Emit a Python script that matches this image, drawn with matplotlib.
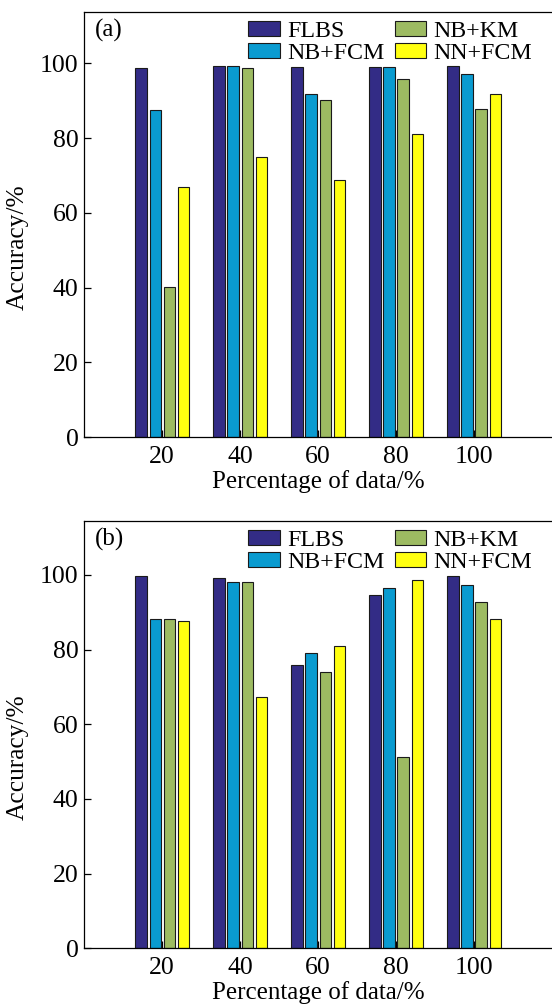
import matplotlib
matplotlib.use("Agg")
import matplotlib.pyplot as plt
import numpy as np

plt.rcParams["font.family"] = ["Liberation Serif", "DejaVu Serif"]

PERCENTAGES = ["20", "40", "60", "80", "100"]
METHODS = ["FLBS", "NB+FCM", "NB+KM", "NN+FCM"]
COLORS = ["#332c86", "#0a9bd0", "#9dbb62", "#ffff10"]

ACC_A = {
    "FLBS": [98.7, 99.4, 99.0, 99.1, 99.3],
    "NB+FCM": [87.5, 99.2, 91.7, 99.1, 97.2],
    "NB+KM": [40.1, 98.8, 90.2, 95.9, 87.9],
    "NN+FCM": [66.8, 74.9, 68.7, 81.2, 91.7],
}
ACC_B = {
    "FLBS": [99.6, 99.2, 75.9, 94.7, 99.6],
    "NB+FCM": [88.3, 98.0, 79.0, 96.5, 97.2],
    "NB+KM": [88.3, 98.0, 74.0, 51.1, 92.8],
    "NN+FCM": [87.6, 67.4, 81.0, 98.5, 88.1],
}

BAR_W = 0.145
STEP = 0.181


def draw_panel(ax, acc, tag, ytop):
    x = np.arange(1, len(PERCENTAGES) + 1)
    offsets = (np.arange(len(METHODS)) - 1.5) * STEP
    for method, color, off in zip(METHODS, COLORS, offsets):
        ax.bar(x + off, acc[method], width=BAR_W, color=color,
               edgecolor="#1a1a1a", linewidth=0.8, label=method, zorder=2)
    ax.set_xlim(0, 6)
    ax.set_ylim(0, ytop)
    ax.set_xticks(x)
    ax.set_xticklabels(PERCENTAGES)
    ax.set_yticks([0, 20, 40, 60, 80, 100])
    ax.tick_params(direction="in", length=5, labelsize=18.5, width=0.9)
    ax.tick_params(axis="x", pad=6)
    ax.tick_params(axis="y", pad=4)
    ax.spines["right"].set_visible(False)
    for s in ("left", "top", "bottom"):
        ax.spines[s].set_linewidth(0.9)
    ax.set_xlabel("Percentage of data/%", fontsize=18, labelpad=2)
    ax.set_ylabel("Accuracy/%", fontsize=18.3)
    ax.yaxis.set_label_coords(-0.118, 0.447)
    ax.text(0.023, 0.955, tag, transform=ax.transAxes, fontsize=18,
            ha="left", va="center")
    ax.legend(ncol=2, loc="upper left", bbox_to_anchor=(0.351, 0.979),
              frameon=False, fontsize=17.2, handlelength=1.31, handleheight=0.6,
              handletextpad=0.3, columnspacing=0.45, labelspacing=0.06,
              borderpad=0.0, borderaxespad=0.0)


fig = plt.figure(figsize=(5.52, 10.05), dpi=100)
ax_a = fig.add_axes([0.1527, 0.5649, 0.8473, 0.4235])
ax_b = fig.add_axes([0.1527, 0.0564, 0.8473, 0.4255])
draw_panel(ax_a, ACC_A, "(a)", 113.8)
draw_panel(ax_b, ACC_B, "(b)", 114.5)

fig.savefig("out.png", dpi=100)
